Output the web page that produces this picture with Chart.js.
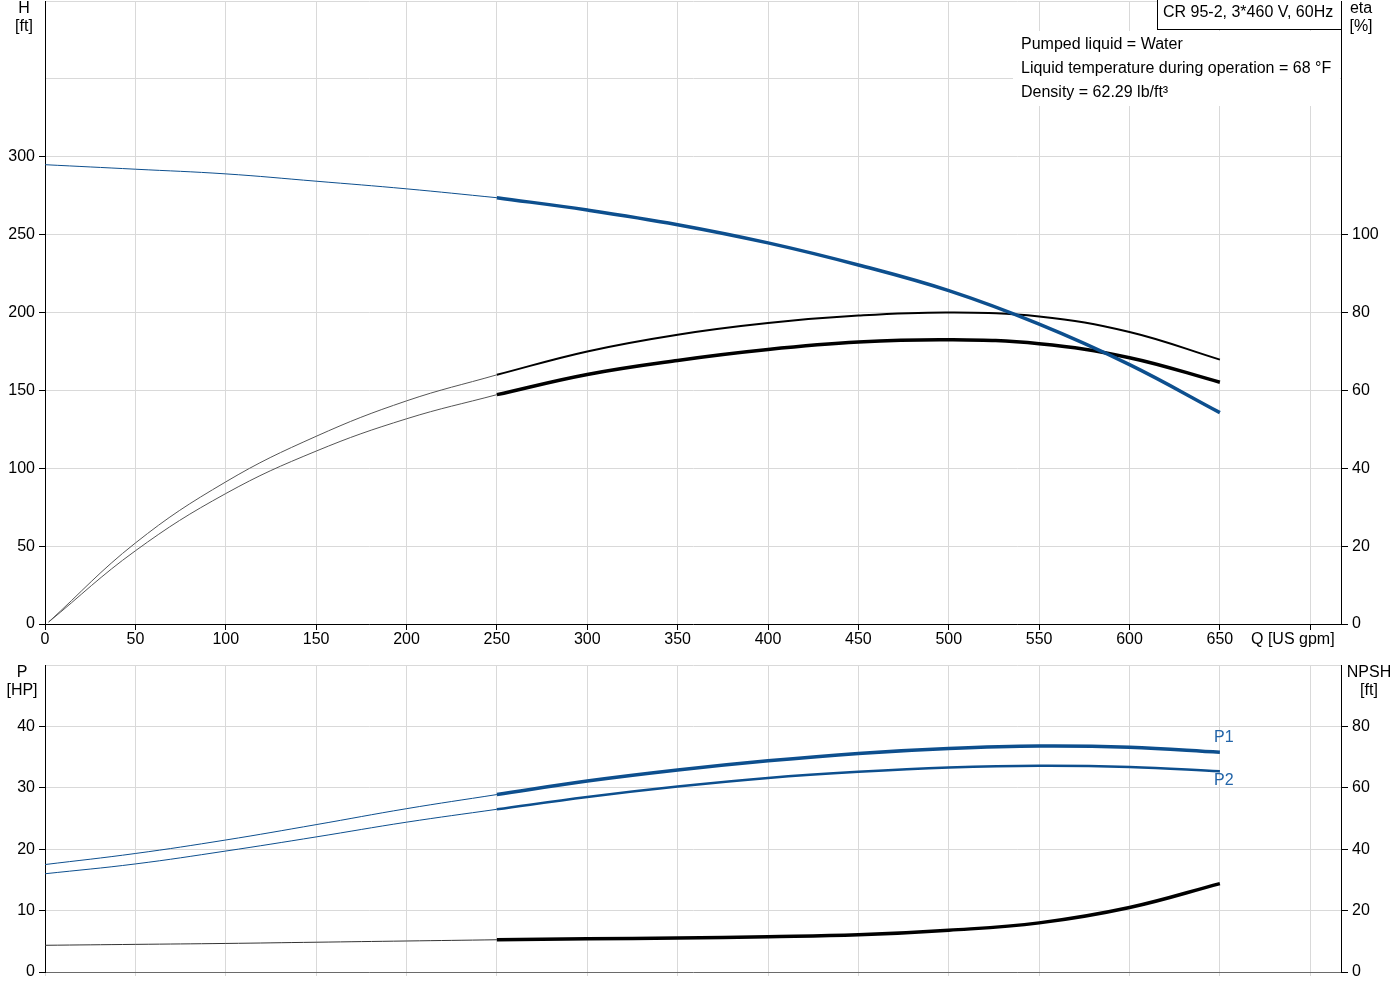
<!DOCTYPE html>
<html>
<head>
<meta charset="utf-8">
<script src="https://cdn.jsdelivr.net/npm/chart.js@4.4.0/dist/chart.umd.min.js"></script>
<style>
  html, body { margin:0; padding:0; background:#fff; width:1400px; height:1000px; overflow:hidden; }
  body { position:relative; font-family:"Liberation Sans", Arial, sans-serif; font-size:16px; color:#000; }
  canvas { position:absolute; left:0; }
  #c1 { top:0; }
  #c2 { top:650px; }
  .t { position:absolute; white-space:nowrap; line-height:18px; }
  .c { text-align:center; }
</style>
</head>
<body>
<canvas id="c1" width="1400" height="655"></canvas>
<canvas id="c2" width="1400" height="350"></canvas>

<div class="t c" style="left:4px;top:-1px;width:40px;">H<br>[ft]</div>
<div class="t c" style="left:1341px;top:-1px;width:40px;">eta<br>[%]</div>
<div class="t c" style="left:2px;top:663px;width:40px;">P<br>[HP]</div>
<div class="t c" style="left:1344px;top:663px;width:50px;">NPSH<br>[ft]</div>
<div class="t" style="left:1251px;top:630px;">Q [US gpm]</div>
<div class="t" style="left:1214px;top:728px;color:#2264a8;">P1</div>
<div class="t" style="left:1214px;top:771px;color:#2264a8;">P2</div>

<div style="position:absolute;left:1157px;top:0;width:183px;height:29px;background:#fff;border-left:1px solid #000;border-bottom:1px solid #000;"></div>
<div class="t" style="left:1163px;top:3px;">CR 95-2, 3*460 V, 60Hz</div>
<div style="position:absolute;left:1013px;top:31px;width:327px;height:75px;background:#fff;"></div>
<div class="t" style="left:1021px;top:35px;">Pumped liquid = Water</div>
<div class="t" style="left:1021px;top:59px;">Liquid temperature during operation = 68 °F</div>
<div class="t" style="left:1021px;top:83px;">Density = 62.29 lb/ft³</div>

<script>
// ---- data ----
const flowQ   = [0, 50, 100, 150, 200, 250, 300, 350, 400, 450, 500, 550, 600, 650];
const headH   = [294.9, 292.0, 289.0, 284.3, 279.4, 273.7, 265.8, 256.4, 244.7, 230.5, 214.0, 192.5, 166.5, 135.7];
const flowEta = [2, 50, 100, 150, 200, 250, 300, 350, 400, 450, 500, 550, 600, 650];
const etaUpper = [0.5, 20.8, 36.5, 48.2, 57.3, 64.0, 70.0, 74.3, 77.3, 79.2, 80.0, 79.0, 75.0, 67.9];
const etaLower = [0.5, 18.8, 33.5, 44.4, 52.7, 58.9, 64.1, 67.7, 70.5, 72.4, 73.0, 72.0, 68.4, 62.1];
const powerP1 = [17.5, 19.3, 21.5, 24.0, 26.6, 28.9, 31.1, 32.9, 34.4, 35.6, 36.4, 36.8, 36.6, 35.8];
const powerP2 = [16.0, 17.6, 19.7, 22.0, 24.4, 26.5, 28.5, 30.2, 31.6, 32.6, 33.3, 33.6, 33.4, 32.7];
const npshR   = [8.7, 9.0, 9.3, 9.7, 10.1, 10.5, 10.8, 11.1, 11.5, 12.1, 13.6, 16.0, 21.0, 28.8];
const qSplit = 250;
const xTicksMax = 650, hLabelMax = 300, etaLabelMax = 100, pLabelMax = 40, npshLabelMax = 80;

const BLUE = '#0d4f8e';
const GRID = '#d9d9d9';
Chart.defaults.font.family = '"Liberation Sans", Arial, sans-serif';
Chart.defaults.font.size = 16;
Chart.defaults.color = '#000';

function pts(xs, ys, part) {
  const out = [];
  xs.forEach((x, i) => {
    if (part === 'thin' ? x <= qSplit : x >= qSplit) out.push({x, y: ys[i]});
  });
  return out;
}
function ds(xs, ys, part, color, width, axis) {
  return {
    data: pts(xs, ys, part), borderColor: color, borderWidth: width, yAxisID: axis,
    pointRadius: 0, fill: false, tension: 0.4, borderCapStyle: 'butt'
  };
}
function limTickColor(lim) { return ctx => (ctx.tick && ctx.tick.value <= lim) ? '#000' : 'rgba(0,0,0,0)'; }
function fixY(w) { return s => { s.width = w; s.paddingTop = 0; s.paddingBottom = 0; }; }

const xCommon = (showLabels, h) => ({
  type: 'linear', min: 0, max: 717,
  ticks: { stepSize: 50, includeBounds: false, display: showLabels, autoSkip: false, maxRotation: 0, padding: 0,
           callback: v => v <= xTicksMax ? String(v) : '' },
  grid: { color: GRID, tickColor: showLabels ? '#000' : GRID, tickLength: showLabels ? 6 : 4, drawTicks: true },
  border: { color: showLabels ? '#000' : '#6a6a6a', width: 1 },
  afterFit: s => { s.height = h; s.paddingLeft = 0; s.paddingRight = 0; }
});

new Chart(document.getElementById('c1'), {
  type: 'line',
  data: { datasets: [
    ds(flowQ, headH, 'thin', BLUE, 1, 'y'),
    ds(flowQ, headH, 'thick', BLUE, 3.5, 'y'),
    ds(flowEta, etaUpper, 'thin', '#555', 1, 'yEta'),
    ds(flowEta, etaUpper, 'thick', '#000', 2, 'yEta'),
    ds(flowEta, etaLower, 'thin', '#555', 1, 'yEta'),
    ds(flowEta, etaLower, 'thick', '#000', 3.5, 'yEta')
  ]},
  options: {
    responsive: false, animation: false, devicePixelRatio: 1,
    layout: { padding: { top: 1, left: 0, right: 0, bottom: 0 } },
    plugins: { legend: { display: false }, tooltip: { enabled: false } },
    scales: {
      x: xCommon(true, 31),
      y: { position: 'left', min: 0, max: 400,
           ticks: { stepSize: 50, padding: 4, callback: v => v <= hLabelMax ? String(v) : '' },
           grid: { color: GRID, tickColor: limTickColor(hLabelMax), tickLength: 6 },
           border: { color: '#000', width: 1 },
           afterFit: fixY(45) },
      yEta: { position: 'right', min: 0, max: 160,
           ticks: { stepSize: 20, padding: 4, callback: v => v <= etaLabelMax ? String(v) : '' },
           grid: { drawOnChartArea: false, tickColor: limTickColor(etaLabelMax), tickLength: 7 },
           border: { color: '#000', width: 1 },
           afterFit: fixY(59) }
    }
  }
});

new Chart(document.getElementById('c2'), {
  type: 'line',
  data: { datasets: [
    ds(flowQ, powerP1, 'thin', BLUE, 1, 'y'),
    ds(flowQ, powerP1, 'thick', BLUE, 3.5, 'y'),
    ds(flowQ, powerP2, 'thin', BLUE, 1, 'y'),
    ds(flowQ, powerP2, 'thick', BLUE, 2.5, 'y'),
    ds(flowQ, npshR, 'thin', '#333', 1, 'yN'),
    ds(flowQ, npshR, 'thick', '#000', 3.5, 'yN')
  ]},
  options: {
    responsive: false, animation: false, devicePixelRatio: 1,
    layout: { padding: { top: 15, left: 0, right: 0, bottom: 0 } },
    plugins: { legend: { display: false }, tooltip: { enabled: false } },
    scales: {
      x: xCommon(false, 28),
      y: { position: 'left', min: 0, max: 50,
           ticks: { stepSize: 10, padding: 4, callback: v => v <= pLabelMax ? String(v) : '' },
           grid: { color: GRID, tickColor: limTickColor(pLabelMax), tickLength: 6 },
           border: { color: '#000', width: 1 },
           afterFit: fixY(45) },
      yN: { position: 'right', min: 0, max: 100,
           ticks: { stepSize: 20, padding: 4, callback: v => v <= npshLabelMax ? String(v) : '' },
           grid: { drawOnChartArea: false, tickColor: limTickColor(npshLabelMax), tickLength: 7 },
           border: { color: '#000', width: 1 },
           afterFit: fixY(59) }
    }
  }
});
</script>
</body>
</html>
